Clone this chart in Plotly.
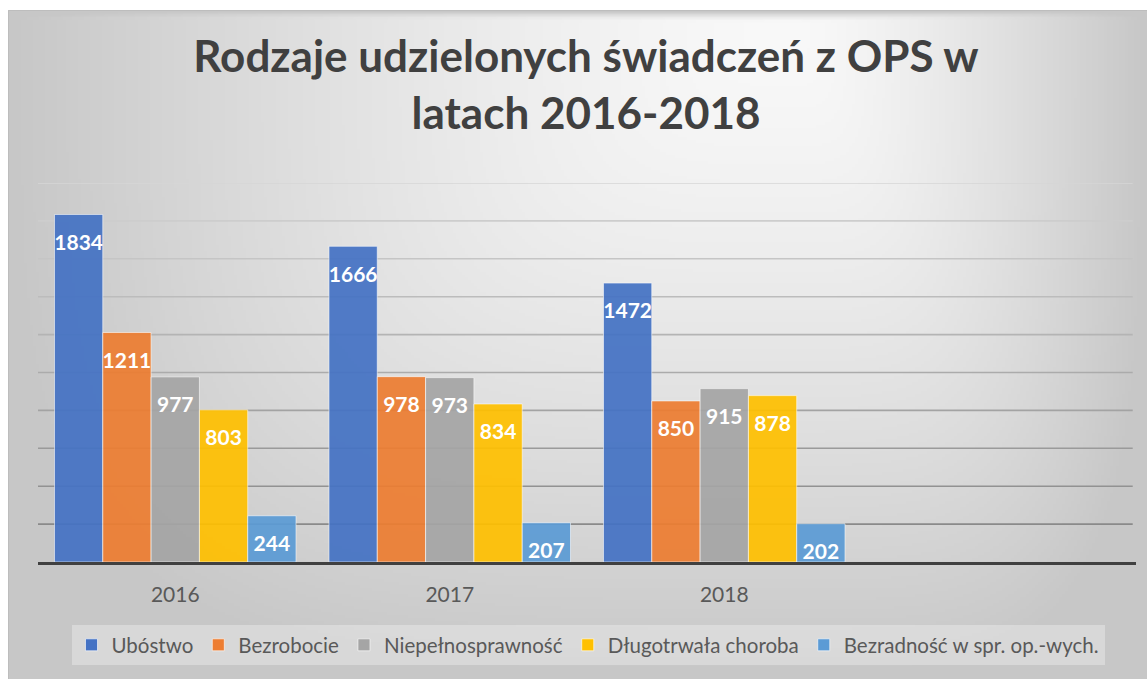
import base64
import struct
import zlib

import numpy as np
import plotly.graph_objects as go

# ---------------- data ----------------
years = ["2016", "2017", "2018"]
series_names = [
    "Ubóstwo",
    "Bezrobocie",
    "Niepełnosprawność",
    "Długotrwała choroba",
    "Bezradność w spr. op.-wych.",
]
ubostwo = [1834, 1666, 1472]
bezrobocie = [1211, 978, 850]
niepelnosprawnosc = [977, 973, 915]
dlugotrwala_choroba = [803, 834, 878]
bezradnosc = [244, 207, 202]
y_grid = [200, 400, 600, 800, 1000, 1200, 1400, 1600, 1800, 2000]

series_values = [ubostwo, bezrobocie, niepelnosprawnosc, dlugotrwala_choroba, bezradnosc]
colors = ["#4472C4", "#ED7D31", "#A5A5A5", "#FFC000", "#5B9BD5"]

# ---------------- geometry ----------------
W, H = 1147, 679
ML, MR, MT, MB = 38, 11, 183, 117
PW, PH = W - ML - MR, H - MT - MB


def px_x(px):
    return (px - ML) / PW


def px_y(py):
    return (H - MB - py) / PH


# ---------------- gradient background (PNG data URI) ----------------
def gradient_png(w, h):
    x0, x1, y0, y1 = 8, W, 10, H
    fx, fy = 790, 20
    xs = np.linspace(x0, x1, w)
    ys = np.linspace(y0, y1, h)
    X, Y = np.meshgrid(xs, ys)
    tx = np.where(X > fx, (X - fx) / (x1 - fx), (fx - X) / (fx - x0))
    ty = np.where(Y > fy, (Y - fy) / (y1 - fy), (fy - Y) / (fy - y0 + 1e-9))
    p = 4.0
    t = np.clip((tx ** p + ty ** p) ** (1 / p), 0, 1)
    val = (249 - (249 - 199) * t ** 1.4).astype(np.uint8)
    raw = b"".join(b"\x00" + val[r].tobytes() for r in range(h))

    def chunk(tag, data):
        c = struct.pack(">I", len(data)) + tag + data
        return c + struct.pack(">I", zlib.crc32(tag + data) & 0xFFFFFFFF)

    png = b"\x89PNG\r\n\x1a\n"
    png += chunk(b"IHDR", struct.pack(">IIBBBBB", w, h, 8, 0, 0, 0, 0))
    png += chunk(b"IDAT", zlib.compress(raw, 9))
    png += chunk(b"IEND", b"")
    return "data:image/png;base64," + base64.b64encode(png).decode()


bg_src = gradient_png(380, 224)

# ---------------- figure ----------------
fig = go.Figure()
for name, vals, col in zip(series_names, series_values, colors):
    fig.add_trace(
        go.Bar(
            x=years,
            y=vals,
            name=name,
            marker=dict(color=col, opacity=0.92,
                        line=dict(color="rgba(255,255,255,0.6)", width=1)),
            text=[f'<span style="font-size:5px"> </span><br>{v}' for v in vals],
            textposition="inside",
            insidetextanchor="end",
            textangle=0,
            textfont=dict(family="Lato", size=21, color="white", weight=700),
            constraintext="none",
            hoverinfo="skip",
        )
    )

shapes = []
n = len(y_grid)
for i, gv in enumerate(y_grid):
    g = int(0x8a + (0xd6 - 0x8a) * i / (n - 1))
    shapes.append(dict(type="line", xref="paper", yref="y", x0=0, x1=0.997,
                       y0=gv, y1=gv, layer="below",
                       line=dict(color=f"rgb({g},{g},{g})", width=1.6)))
# chart frame (top/left edge)
shapes.append(dict(type="rect", xref="paper", yref="paper",
                   x0=px_x(8.5), x1=px_x(W + 5), y0=px_y(10.5), y1=px_y(H + 5),
                   line=dict(color="#bdbdbd", width=1), fillcolor="rgba(0,0,0,0)",
                   layer="below"))

fig.update_layout(
    width=W,
    height=H,
    margin=dict(l=ML, r=MR, t=MT, b=MB, pad=0),
    paper_bgcolor="white",
    plot_bgcolor="rgba(0,0,0,0)",
    barmode="group",
    bargap=0.12,
    bargroupgap=0,
    uniformtext=dict(minsize=21, mode="show"),
    title=dict(
        text="Rodzaje udzielonych świadczeń z OPS w<br>latach 2016-2018",
        x=px_x(586), xref="paper", xanchor="center",
        y=1 - 72 / H, yref="container", yanchor="top",
        font=dict(family="Lato", size=44, color="#404040", weight=700),
    ),
    xaxis=dict(
        type="category",
        categoryorder="array",
        categoryarray=years,
        range=[-0.5, 3.5],
        showline=True,
        linecolor="#404040",
        linewidth=3,
        ticks="",
        showgrid=False,
        zeroline=False,
        tickfont=dict(family="Lato", size=21, color="#595959"),
        ticklabelstandoff=12,
        fixedrange=True,
    ),
    yaxis=dict(
        range=[0, 2000],
        showgrid=False,
        showticklabels=False,
        zeroline=False,
        showline=False,
        ticks="",
        fixedrange=True,
    ),
    legend=dict(
        orientation="h",
        x=px_x(588), xanchor="center",
        y=px_y(645), yanchor="middle",
        bgcolor="rgba(255,255,255,0.3)",
        font=dict(family="Lato", size=20.5, color="#595959"),
        traceorder="normal",
        itemclick=False,
        itemdoubleclick=False,
    ),
    images=[dict(
        source=bg_src, xref="paper", yref="paper",
        x=px_x(8), y=px_y(10), sizex=(W - 8) / PW, sizey=(H - 10) / PH,
        xanchor="left", yanchor="top", sizing="stretch", layer="below",
    )],
    shapes=shapes,
    showlegend=True,
)

fig.write_html(
    "out.html",
    config={"displayModeBar": False},
    post_script="document.body.style.margin='0px';document.body.style.overflow='hidden';",
)
